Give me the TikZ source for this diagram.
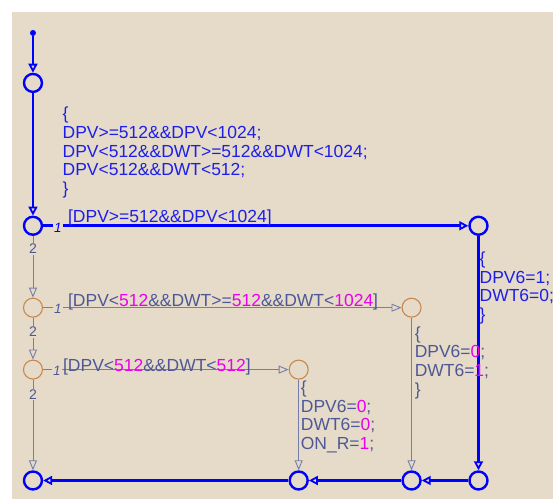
\documentclass[tikz,border=0pt]{standalone}
\usepackage{fontspec}
\setmainfont{Liberation Sans}
\usetikzlibrary{arrows.meta}
\definecolor{bg}{RGB}{229,219,200}
\definecolor{act}{RGB}{0,0,255}
\definecolor{acttext}{RGB}{30,30,235}
\definecolor{tline}{RGB}{118,125,170}
\definecolor{ttext}{RGB}{78,88,150}
\definecolor{mag}{RGB}{235,0,235}
\definecolor{junc}{RGB}{200,135,80}
\newcommand\numv[1]{\textcolor{mag}{#1}}

\begin{document}
\begin{tikzpicture}[x=1pt,y=-1pt,
  bj/.style={circle,draw=act,line width=2.4pt,minimum size=18pt,inner sep=0pt},
  oj/.style={circle,draw=junc,line width=1.1pt,minimum size=19pt,inner sep=0pt},
  startdot/.style={circle,fill=act,minimum size=6pt,inner sep=0pt},
  barrow/.style={draw=act,line width=2.6pt,-{Triangle[open,length=9pt,width=9pt,line width=1.8pt]}},
  garrow/.style={draw=tline,line width=0.9pt,-{Triangle[open,length=10pt,width=8pt,line width=0.9pt]}},
  % multi-line texts are anchored at the baseline of their last line
  txt/.style={anchor=base west,inner sep=0pt,align=left,font=\fontsize{17.5}{18.6}\selectfont},
  acttxt/.style={txt,text=acttext},
  grdtxt/.style={txt,text=ttext},
  order/.style={fill=bg,inner sep=1pt,font=\fontsize{14}{14}\selectfont},
  prio/.style={order,font=\fontsize{13.5}{13.5}\selectfont\itshape}
]
% canvas
\fill[white] (0,0) rectangle (554,500);
\fill[bg] (12,12) rectangle (554,500);

% junctions
\node[startdot] (d0) at (33,33) {};
\node[bj] (j1) at (33,83) {};
\node[bj] (j2) at (33,226) {};
\node[bj] (j3) at (479,226) {};
\node[oj] (j4) at (33,308) {};
\node[oj] (j5) at (412,308) {};
\node[oj] (j6) at (33,370) {};
\node[oj] (j9) at (299,370) {};
\node[bj] (b1) at (33,481) {};
\node[bj] (b2) at (299,481) {};
\node[bj] (b3) at (412,481) {};
\node[bj] (b4) at (479,481) {};

% active path
\draw[barrow] (d0) -- (j1);
\draw[barrow] (j1) -- (j2);
\draw[barrow] (j2) -- (j3);
\draw[barrow] (j3) -- (b4);
\draw[barrow] (b4) -- (b3);
\draw[barrow] (b3) -- (b2);
\draw[barrow] (b2) -- (b1);

% inactive paths
\draw[garrow] (j2) -- (j4);
\draw[garrow] (j4) -- (j5);
\draw[garrow] (j4) -- (j6);
\draw[garrow] (j6) -- (j9);
\draw[garrow] (j6) -- (b1);
\draw[garrow] (j9) -- (b2);
\draw[garrow] (j5) -- (b3);

% execution order labels
\node[prio,text=act] (o1) at (58,228) {1};
\node[order,text=ttext] (o2) at (33,249) {2};
\node[prio,text=ttext] (o3) at (58,309) {1};
\node[order,text=ttext] (o4) at (33,332) {2};
\node[prio,text=ttext] (o5) at (57,371) {1};
\node[order,text=ttext] (o6) at (33,395) {2};

% comment block on the default transition
\node[acttxt] (c0) at (62.5,194.5) {\{\\DPV>=512\&\&DPV<1024;\\DPV<512\&\&DWT>=512\&\&DWT<1024;\\DPV<512\&\&DWT<512;\\\}};

% guards
\node[acttxt] (g1) at (68,223) {[DPV>=512\&\&DPV<1024]};
\node[grdtxt] (g2) at (68,307) {[DPV<\numv{512}\&\&DWT>=\numv{512}\&\&DWT<\numv{1024}]};
\node[grdtxt] (g3) at (63,372) {[DPV<\numv{512}\&\&DWT<\numv{512}]};

% actions
\node[acttxt] (a1) at (480,320.5) {\{\\DPV6=1;\\DWT6=0;\\\}};
\node[grdtxt] (a2) at (415,395.5) {\{\\DPV6=\numv{0};\\DWT6=\numv{1};\\\}};
\node[grdtxt] (a3) at (301,450) {\{\\DPV6=\numv{0};\\DWT6=\numv{0};\\ON\_R=\numv{1};};
\end{tikzpicture}
\end{document}
